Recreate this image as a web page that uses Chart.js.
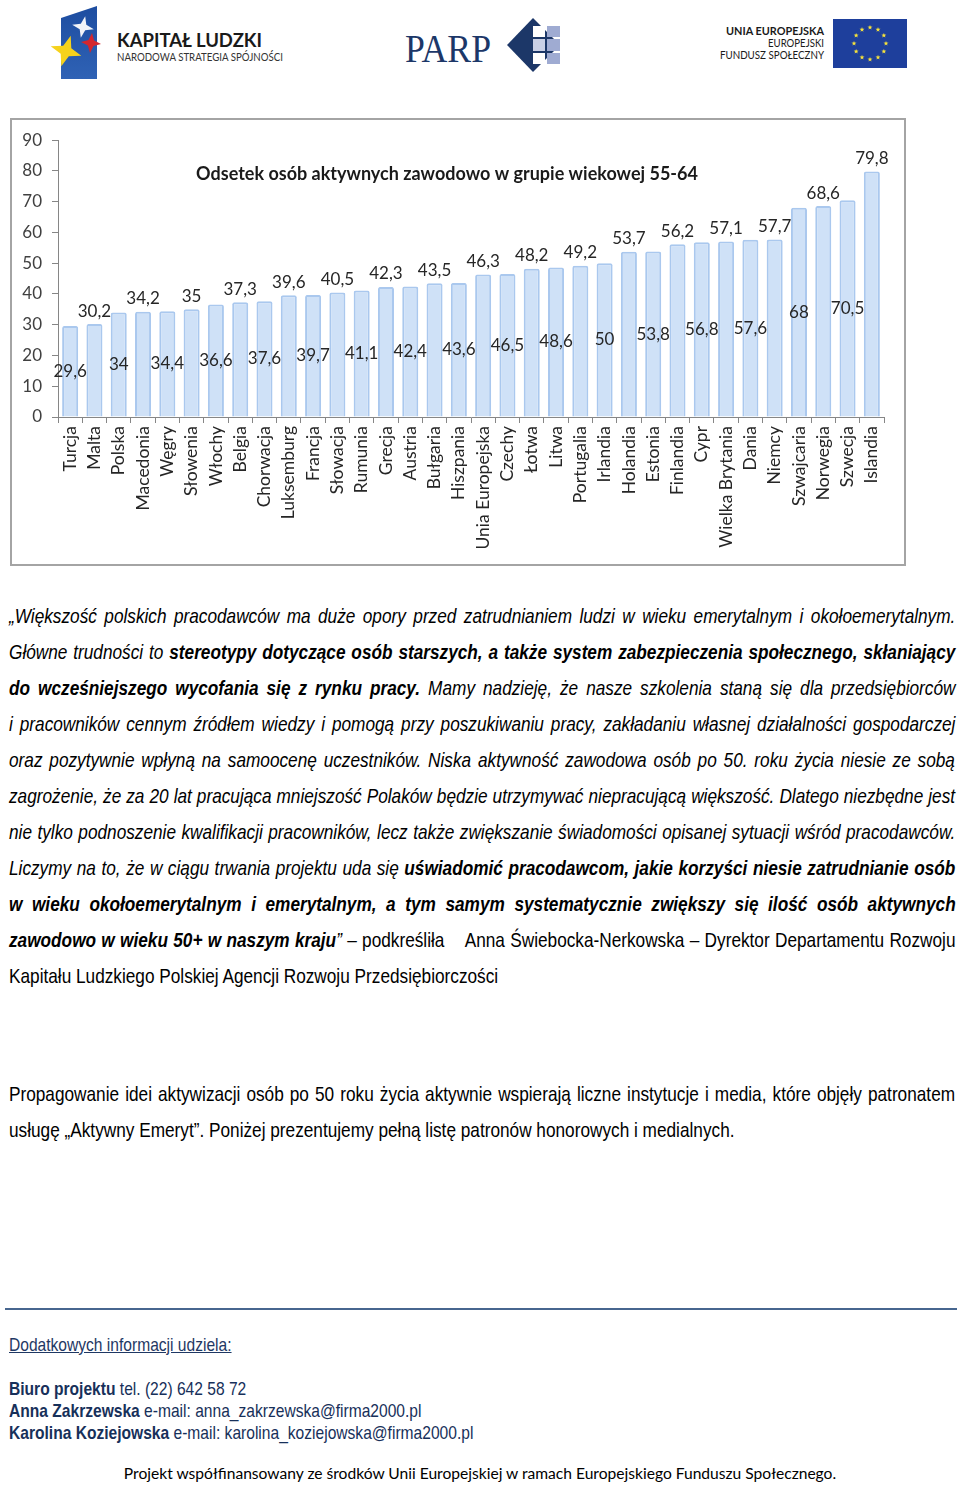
<!DOCTYPE html>
<html lang="pl">
<head>
<meta charset="utf-8">
<title>Odsetek osób aktywnych zawodowo w grupie wiekowej 55-64</title>
<script src="https://cdn.jsdelivr.net/npm/chart.js@4.4.1/dist/chart.umd.min.js"></script>
<style>
	html, body { margin: 0; padding: 0; background: #fff; }
	body {
		width: 960px; height: 1485px; position: relative; overflow: hidden;
		font-family: "Liberation Sans", Arial, sans-serif;
		color: #000;
	}
	#logos { position: absolute; left: 0; top: 0; }
	#chartBox {
		position: absolute; left: 10px; top: 118px; width: 892px; height: 444px;
		border: 2px solid #a4a4a4; background: #fff;
	}
	#chartBox canvas { display: block; }
	/* Arial Narrow look: Liberation Sans squeezed horizontally */
	.narrow { transform: scaleX(0.82); transform-origin: 0 0; }
	.txt { position: absolute; left: 9px; width: 1153.7px; font-size: 21px; line-height: 36px; }
	.txt .ln { white-space: nowrap; }
	#para1 { top: 598px; }
	#para2 { top: 1076px; }
	#rule { position: absolute; left: 5px; top: 1308px; width: 952px; height: 2px; background: #47668f; }
	#contactHead {
		position: absolute; left: 9px; top: 1334px; font-size: 19px; line-height: 22px;
		color: #1f3864; text-decoration: underline; white-space: nowrap;
	}
	#contacts { position: absolute; left: 9px; top: 1378px; font-size: 19px; line-height: 22px; color: #17305a; white-space: nowrap; }
	#footer {
		position: absolute; left: 0; top: 1462px; width: 960px; text-align: center;
		font-family: Lato, sans-serif; font-size: 15.6px; line-height: 22px; color: #000;
	}
</style>
</head>
<body>

<svg id="logos" width="960" height="100" xmlns="http://www.w3.org/2000/svg">
	<defs>
		<linearGradient id="klBlue" x1="0" y1="0" x2="0" y2="1">
			<stop offset="0" stop-color="#1d4da0"/>
			<stop offset="1" stop-color="#2f62b5"/>
		</linearGradient>
	</defs>
	<polygon points="61,18 97,6 97,79 61,79" fill="url(#klBlue)"/>
	<polygon id="starWhite" fill="#f2f4f8"/>
	<polygon id="starRed" fill="#d3262e"/>
	<polygon id="starYellow" fill="#f6d21c"/>
	<text x="117" y="47" font-family="Lato, sans-serif" font-weight="bold" font-size="19" fill="#1a1a1a" textLength="145" lengthAdjust="spacingAndGlyphs">KAPITAŁ LUDZKI</text>
	<text x="117" y="61" font-family="Lato, sans-serif" font-size="10.5" fill="#333" textLength="166" lengthAdjust="spacingAndGlyphs">NARODOWA STRATEGIA SPÓJNOŚCI</text>

	<text x="405" y="62" font-family="Liberation Serif, DejaVu Serif, serif" font-size="40" fill="#1c3768" textLength="86" lengthAdjust="spacingAndGlyphs">PARP</text>
	<polygon points="507,45 533,18 560,45 533,72" fill="#1c3768"/>
	<rect x="547" y="26" width="13" height="11" fill="#9fabd2"/>
	<rect x="547" y="39" width="13" height="12" fill="#9fabd2"/>
	<rect x="547" y="53" width="13" height="11" fill="#9fabd2"/>
	<rect x="533" y="26" width="12" height="11" fill="#ffffff"/>
	<rect x="533" y="39" width="12" height="12" fill="#c9d0e6"/>
	<rect x="533" y="53" width="12" height="11" fill="#ffffff"/>

	<text x="824" y="35" text-anchor="end" font-family="Lato, sans-serif" font-weight="bold" font-size="11" fill="#1a1a1a" textLength="98" lengthAdjust="spacingAndGlyphs">UNIA EUROPEJSKA</text>
	<text x="824" y="47" text-anchor="end" font-family="Lato, sans-serif" font-size="10.5" fill="#1a1a1a" textLength="56" lengthAdjust="spacingAndGlyphs">EUROPEJSKI</text>
	<text x="824" y="59" text-anchor="end" font-family="Lato, sans-serif" font-size="10.5" fill="#1a1a1a" textLength="104" lengthAdjust="spacingAndGlyphs">FUNDUSZ SPOŁECZNY</text>
	<rect x="833" y="19" width="74" height="49" fill="#1e3f9c"/>
	<g id="euStars" fill="#f7e33a"></g>
</svg>

<div id="chartBox"><canvas id="chart" width="892" height="444"></canvas></div>

<div class="txt narrow" id="para1">
	<div class="ln j"><span><i>„Większość polskich pracodawców ma duże opory przed zatrudnianiem ludzi w wieku emerytalnym i okołoemerytalnym.</i></span></div>
	<div class="ln j"><span><i>Główne trudności to </i><b><i>stereotypy dotyczące osób starszych, a także system zabezpieczenia społecznego, skłaniający</i></b></span></div>
	<div class="ln j"><span><b><i>do wcześniejszego wycofania się z rynku pracy.</i></b><i> Mamy nadzieję, że nasze szkolenia staną się dla przedsiębiorców</i></span></div>
	<div class="ln j"><span><i>i pracowników cennym źródłem wiedzy i pomogą przy poszukiwaniu pracy, zakładaniu własnej działalności gospodarczej</i></span></div>
	<div class="ln j"><span><i>oraz pozytywnie wpłyną na samoocenę uczestników. Niska aktywność zawodowa osób po 50. roku życia niesie ze sobą</i></span></div>
	<div class="ln j"><span><i>zagrożenie, że za 20 lat pracująca mniejszość Polaków będzie utrzymywać niepracującą większość. Dlatego niezbędne jest</i></span></div>
	<div class="ln j"><span><i>nie tylko podnoszenie kwalifikacji pracowników, lecz także zwiększanie świadomości opisanej sytuacji wśród pracodawców.</i></span></div>
	<div class="ln j"><span><i>Liczymy na to, że w ciągu trwania projektu uda się </i><b><i>uświadomić pracodawcom, jakie korzyści niesie zatrudnianie osób</i></b></span></div>
	<div class="ln j"><span><b><i>w wieku okołoemerytalnym i emerytalnym, a tym samym systematycznie zwiększy się ilość osób aktywnych</i></b></span></div>
	<div class="ln j"><span><b><i>zawodowo w wieku 50+ w naszym kraju</i></b><i>”</i> – podkreśliła&nbsp;&nbsp;&nbsp; Anna Świebocka-Nerkowska – Dyrektor Departamentu Rozwoju</span></div>
	<div class="ln"><span>Kapitału Ludzkiego Polskiej Agencji Rozwoju Przedsiębiorczości</span></div>
</div>

<div class="txt narrow" id="para2">
	<div class="ln j"><span>Propagowanie idei aktywizacji osób po 50 roku życia aktywnie wspierają liczne instytucje i media, które objęły patronatem</span></div>
	<div class="ln"><span>usługę „Aktywny Emeryt”. Poniżej prezentujemy pełną listę patronów honorowych i medialnych.</span></div>
</div>

<div id="rule"></div>
<div id="contactHead" class="narrow">Dodatkowych informacji udziela:</div>
<div id="contacts" class="narrow">
	<div><b>Biuro projektu</b> tel. (22) 642 58 72</div>
	<div><b>Anna Zakrzewska</b> e-mail: anna_zakrzewska@firma2000.pl</div>
	<div><b>Karolina Koziejowska</b> e-mail: karolina_koziejowska@firma2000.pl</div>
</div>
<div id="footer">Projekt współfinansowany ze środków Unii Europejskiej w ramach Europejskiego Funduszu Społecznego.</div>

<script>
(function () {
	'use strict';

	// --- data ---
	var countries = [
		'Turcja', 'Malta', 'Polska', 'Macedonia', 'Węgry', 'Słowenia', 'Włochy', 'Belgia',
		'Chorwacja', 'Luksemburg', 'Francja', 'Słowacja', 'Rumunia', 'Grecja', 'Austria',
		'Bułgaria', 'Hiszpania', 'Unia Europejska', 'Czechy', 'Łotwa', 'Litwa', 'Portugalia',
		'Irlandia', 'Holandia', 'Estonia', 'Finlandia', 'Cypr', 'Wielka Brytania', 'Dania',
		'Niemcy', 'Szwajcaria', 'Norwegia', 'Szwecja', 'Islandia'
	];
	var values = [
		29.6, 30.2, 34, 34.2, 34.4, 35, 36.6, 37.3,
		37.6, 39.6, 39.7, 40.5, 41.1, 42.3, 42.4,
		43.5, 43.6, 46.3, 46.5, 48.2, 48.6, 49.2,
		50, 53.7, 53.8, 56.2, 56.8, 57.1, 57.6,
		57.7, 68, 68.6, 70.5, 79.8
	];
	var yTicks = [0, 10, 20, 30, 40, 50, 60, 70, 80, 90];
	var chartTitle = 'Odsetek osób aktywnych zawodowo w grupie wiekowej 55-64';

	var axisGray = '#868686';

	function starPoints(cx, cy, n, ro, ri, rot) {
		var pts = [];
		for (var k = 0; k < n * 2; k++) {
			var r = (k % 2 === 0) ? ro : ri;
			var a = rot + k * Math.PI / n;
			pts.push((cx + r * Math.sin(a)).toFixed(1) + ',' + (cy - r * Math.cos(a)).toFixed(1));
		}
		return pts.join(' ');
	}

	function drawLogos() {
		document.getElementById('starWhite').setAttribute('points', starPoints(83, 27, 4, 11, 4, 0.2));
		document.getElementById('starRed').setAttribute('points', starPoints(91, 43, 4, 10, 4, 0.1));
		document.getElementById('starYellow').setAttribute('points', starPoints(66, 51, 4, 16, 6, 0.3));
		var g = document.getElementById('euStars');
		for (var s = 0; s < 12; s++) {
			var a = s * Math.PI / 6;
			var p = document.createElementNS('http://www.w3.org/2000/svg', 'polygon');
			p.setAttribute('points', starPoints(870 + 16 * Math.sin(a), 43.5 - 16 * Math.cos(a), 5, 2.6, 1.1, 0));
			g.appendChild(p);
		}
	}

	var valueLabels = {
		id: 'valueLabels',
		afterDatasetsDraw: function (chart) {
			var ctx = chart.ctx;
			var meta = chart.getDatasetMeta(0);
			ctx.save();
			ctx.font = '17px Lato';
			ctx.fillStyle = '#262626';
			ctx.textAlign = 'center';
			ctx.textBaseline = 'middle';
			meta.data.forEach(function (bar, i) {
				var txt = String(values[i]).replace('.', ',');
				// labels alternate: inside the bar (middle) / above the bar
				var y = (i % 2 === 0) ? (bar.y + bar.base) / 2 : bar.y - 13;
				ctx.fillText(txt, bar.x, y);
			});
			ctx.restore();
		}
	};

	var innerTitle = {
		id: 'innerTitle',
		afterDraw: function (chart) {
			var ctx = chart.ctx;
			ctx.save();
			ctx.font = 'bold 18px Lato';
			ctx.fillStyle = '#1a1a1a';
			ctx.textAlign = 'center';
			ctx.textBaseline = 'middle';
			ctx.fillText(chartTitle, 435, 54);
			ctx.restore();
		}
	};

	function drawChart() {
		new Chart(document.getElementById('chart'), {
			type: 'bar',
			data: {
				labels: countries,
				datasets: [{
					data: values,
					backgroundColor: '#cfe1f7',
					borderColor: '#aac8ee',
					borderWidth: 2,
					borderRadius: 2,
					borderSkipped: 'bottom',
					barPercentage: 0.66,
					categoryPercentage: 1
				}]
			},
			options: {
				responsive: false,
				animation: false,
				layout: { padding: { top: 19, right: 20, left: 0, bottom: 0 } },
				plugins: {
					legend: { display: false },
					tooltip: { enabled: false },
					title: { display: false }
				},
				scales: {
					x: {
						offset: true,
						afterFit: function (scale) { scale.height = 147; },
						grid: {
							offset: true, drawOnChartArea: false, drawTicks: true,
							tickLength: 6, color: axisGray
						},
						border: { color: axisGray, width: 1 },
						ticks: {
							autoSkip: false, minRotation: 90, maxRotation: 90, padding: 3,
							color: '#262626', font: { family: 'Lato', size: 17.5 }
						}
					},
					y: {
						min: yTicks[0],
						max: yTicks[yTicks.length - 1],
						afterFit: function (scale) { scale.width = 46; },
						afterBuildTicks: function (scale) {
							scale.ticks = yTicks.map(function (v) { return { value: v }; });
						},
						grid: { drawOnChartArea: false, drawTicks: true, tickLength: 6, color: axisGray },
						border: { color: axisGray, width: 1 },
						ticks: {
							padding: 10,
							color: '#404040', font: { family: 'Lato', size: 17 }
						}
					}
				}
			},
			plugins: [valueLabels, innerTitle]
		});
	}

	// stretch each justified line to the full column width (untransformed sizes)
	function justifyLines() {
		var lines = document.querySelectorAll('.txt .ln.j');
		Array.prototype.forEach.call(lines, function (ln) {
			var span = ln.querySelector('span');
			var target = ln.clientWidth;
			var w = span.offsetWidth;
			var spaces = (span.textContent.trim().match(/[ \u00a0]/g) || []).length;
			if (spaces > 0) {
				ln.style.wordSpacing = ((target - w) / spaces) + 'px';
			}
		});
	}

	drawLogos();
	var ready = document.fonts && document.fonts.ready ? document.fonts.ready : Promise.resolve();
	ready.then(function () {
		justifyLines();
		drawChart();
	});
})();
</script>
</body>
</html>
